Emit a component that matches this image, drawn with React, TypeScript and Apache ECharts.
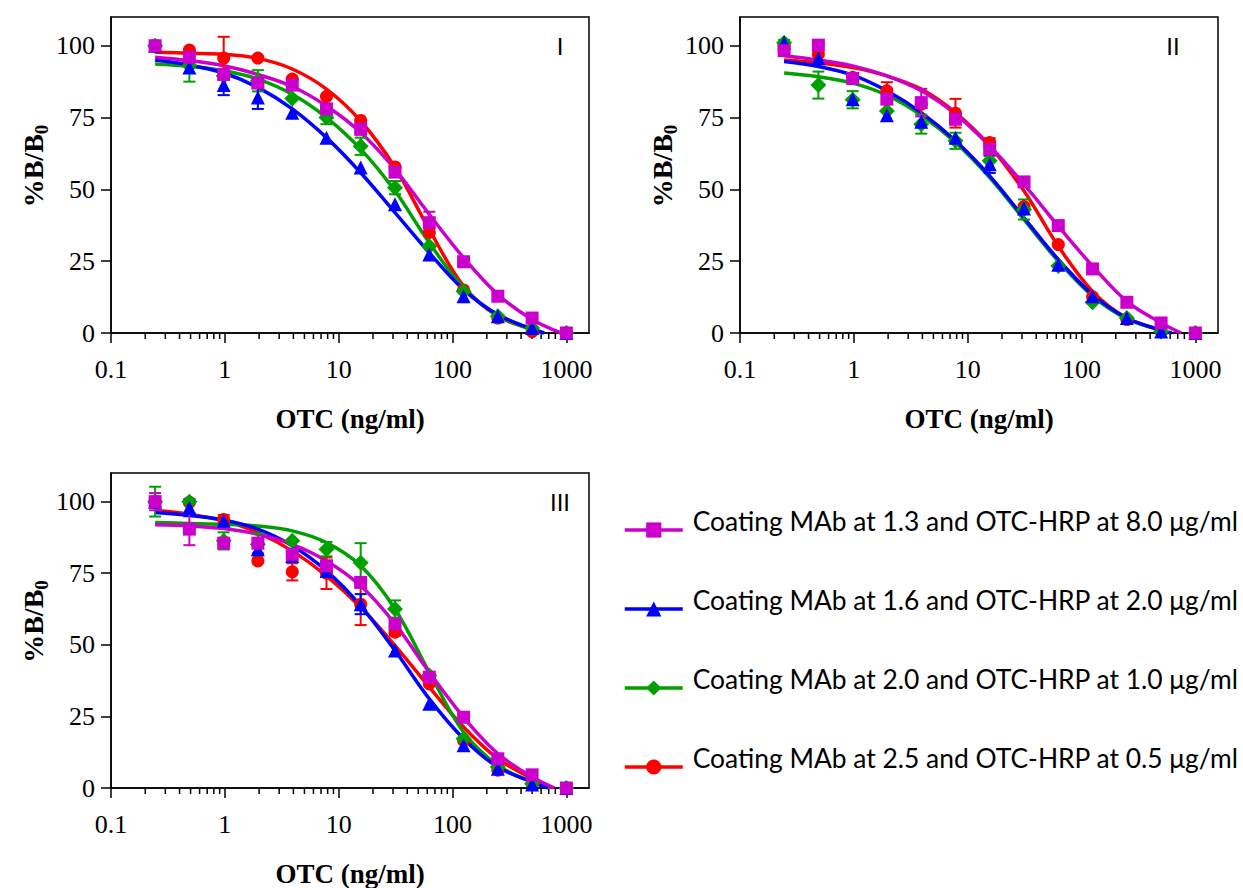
import React, { useEffect, useRef } from "react";
import * as echarts from "echarts";

// OTC concentrations (two-fold dilutions), ng/ml
const concentrations = [0.244, 0.488, 0.977, 1.95, 3.91, 7.81, 15.6, 31.25, 62.5, 125, 250, 500, 1000];
const xTickValues = [0.1, 1, 10, 100, 1000];
const yTickValues = [0, 25, 50, 75, 100];
const minorMultipliers = [2, 3, 4, 5, 6, 7, 8, 9];
const minorDecades = [0.1, 1, 10, 100];
const panelLabels = ["I", "II", "III"];

const nameM = "Coating MAb at 1.3 and OTC-HRP at 8.0 μg/ml";
const nameB = "Coating MAb at 1.6 and OTC-HRP at 2.0 μg/ml";
const nameG = "Coating MAb at 2.0 and OTC-HRP at 1.0 μg/ml";
const nameR = "Coating MAb at 2.5 and OTC-HRP at 0.5 μg/ml";

// ---- Panel I ----
const p1Magenta = [100, 96, 90, 87, 86.3, 78, 71, 56, 38.4, 24.8, 12.8, 5.2, 0];
const p1Blue = [100, 92.4, 86.3, 82, 76.7, 68, 57.6, 44.8, 27.3, 12.8, 5.8, 1.7, 0];
const p1Green = [100, 93, 89.5, 87.8, 81.6, 75, 65, 50.6, 30.2, 14.5, 5.8, 1.7, 0];
const p1Red = [100, 98.5, 95.7, 95.7, 88.4, 82.3, 74, 57.8, 35, 15, 5.2, 0.5, 0];
const p1MagentaErr = [0, 0, 0, 0, 0, 0, 2, 0, 3.8, 0, 0, 0, 0];
const p1BlueErr = [0, 0, 3.5, 4, 0, 0, 0, 0, 0, 0, 0, 0, 0];
const p1GreenErr = [0, 5.5, 0, 3.7, 0, 2.3, 3, 2.3, 0, 0, 0, 0, 0];
const p1RedErr = [0, 0, 7.4, 0, 0, 0, 0, 0, 0, 0, 0, 0, 0];
const p1MagentaFit = [96, 94.8, 93, 90, 85.8, 79, 69.8, 57, 41.3, 26.2, 13.4, 4.7, 0];
const p1BlueFit = [95, 93.3, 90.5, 85.5, 78, 68, 55.8, 41.9, 27.9, 15.1, 6.4, 1.4, 0];
const p1GreenFit = [93.6, 92.8, 91.3, 88.4, 83.1, 75, 64, 49.4, 31.4, 15.7, 6, 1.2, 0];
const p1RedFit = [97.7, 97.4, 97, 95.6, 91.9, 84.9, 73.8, 57.6, 36, 16.3, 5.8, 1.2, 0];
const p1FitEnds = [900, 640, 620, 580]; // M, B, G, R

// ---- Panel II ----
const p2Magenta = [98.3, 100.2, 88.6, 81.4, 80.2, 74.4, 64, 52.6, 37.4, 22.3, 10.7, 3.5, 0];
const p2Blue = [101, 95.6, 81.4, 75.8, 73.5, 68, 58.7, 43.3, 23.8, 12.8, 5.2, 0.5, 0];
const p2Green = [101, 86.3, 81.2, 77.3, 72.7, 66.9, 60, 43, 23.3, 10.7, 5.2, 0.5, 0];
const p2Red = [100, 97, 89, 84.3, 79.7, 76.5, 66.3, 44, 30.8, 12.6, 4.7, 0.5, 0];
const p2MagentaErr = [0, 0, 0, 0, 4.8, 0, 0, 0, 0, 0, 0, 0, 0];
const p2BlueErr = [0, 0, 0, 0, 0, 0, 3, 0, 0, 0, 0, 0, 0];
const p2GreenErr = [1, 4.7, 3, 0, 3.3, 2.8, 0, 3.5, 0, 0, 0, 0, 0];
const p2RedErr = [0, 0, 0, 3, 0, 5, 1.5, 0, 0, 0, 0, 0, 0];
const p2MagentaFit = [96.5, 95, 93, 89.5, 84.3, 76.2, 65.1, 51.7, 37.2, 23.3, 11, 3.5, 0];
const p2BlueFit = [94.5, 92.8, 89.8, 84.3, 76.7, 66.9, 54.7, 40.1, 25.6, 13.4, 5.2, 0.9, 0];
const p2GreenFit = [90.5, 89.2, 87, 82.8, 75.8, 66.3, 54.1, 39.5, 25, 12.8, 4.9, 0.9, 0];
const p2RedFit = [95, 94, 92.4, 89.5, 84.9, 76.7, 65.1, 49.4, 30.2, 14.5, 5.2, 0.9, 0];
const p2FitEnds = [750, 620, 580, 540];

// ---- Panel III ----
const p3Magenta = [100, 90.4, 85.5, 85.5, 81.6, 77.6, 71.8, 57.3, 38.7, 24.7, 10.2, 4.6, 0];
const p3Blue = [100, 97.9, 93.3, 83.4, 81, 75.8, 64.2, 48, 29.4, 14.9, 6.7, 1.2, 0];
const p3Green = [100, 100, 86.3, 85.1, 86.3, 83.4, 78.7, 62.5, 39.3, 17.2, 7.3, 1.5, 0];
const p3Red = [100, 99.7, 93.8, 79.3, 75.5, 75, 64.2, 54.4, 36.4, 16.6, 6.2, 1.5, 0];
const p3MagentaErr = [3, 5.6, 0, 0, 0, 0, 0, 0, 0, 0, 0, 0, 0];
const p3BlueErr = [0, 3, 0, 1.5, 0, 0, 3.5, 0, 0, 0, 0, 0, 0];
const p3GreenErr = [5.2, 0, 3, 3.8, 0, 2.5, 6.8, 3, 0, 0, 0, 0, 0];
const p3RedErr = [0, 0, 1.5, 0, 3, 5.5, 7.3, 1.2, 0, 0, 0, 0, 0];
const p3MagentaFit = [91.9, 91.5, 90.6, 88.6, 85.1, 79.3, 70.6, 57.3, 40.4, 24.7, 12, 3.8, 0];
const p3BlueFit = [96.2, 95.2, 93.6, 90.4, 84.6, 75.8, 63.6, 48, 31.1, 17.2, 7.3, 2.1, 0];
const p3GreenFit = [92.7, 92.4, 92.1, 91.5, 89.8, 85.7, 77.6, 62.5, 40.4, 19.5, 7.9, 2.1, 0];
const p3RedFit = [97, 95.6, 93.3, 89.2, 82.8, 74.1, 63.1, 49.7, 35.2, 21.3, 10.2, 3.3, 0];
const p3FitEnds = [785, 690, 720, 750];

const SERIF = "Liberation Serif";
const SANS_LEGEND = "Lato";

type Cond = { name: string; color: string; symbol: string; size: number };
const condM: Cond = { name: nameM, color: "#CC00CC", symbol: "rect", size: 13 };
const condB: Cond = { name: nameB, color: "#0000FF", symbol: "triangle", size: 14 };
const condG: Cond = { name: nameG, color: "#00A000", symbol: "diamond", size: 16 };
const condR: Cond = { name: nameR, color: "#FF0000", symbol: "circle", size: 13 };

const panels = [
  {
    grid: { left: 111, top: 17, width: 478, height: 316 },
    label: { x: 560, y: 46 },
    sets: [
      { cond: condM, pts: p1Magenta, err: p1MagentaErr, fit: p1MagentaFit, end: p1FitEnds[0] },
      { cond: condB, pts: p1Blue, err: p1BlueErr, fit: p1BlueFit, end: p1FitEnds[1] },
      { cond: condG, pts: p1Green, err: p1GreenErr, fit: p1GreenFit, end: p1FitEnds[2] },
      { cond: condR, pts: p1Red, err: p1RedErr, fit: p1RedFit, end: p1FitEnds[3] },
    ],
  },
  {
    grid: { left: 740, top: 17, width: 478, height: 316 },
    label: { x: 1173, y: 46 },
    sets: [
      { cond: condM, pts: p2Magenta, err: p2MagentaErr, fit: p2MagentaFit, end: p2FitEnds[0] },
      { cond: condB, pts: p2Blue, err: p2BlueErr, fit: p2BlueFit, end: p2FitEnds[1] },
      { cond: condG, pts: p2Green, err: p2GreenErr, fit: p2GreenFit, end: p2FitEnds[2] },
      { cond: condR, pts: p2Red, err: p2RedErr, fit: p2RedFit, end: p2FitEnds[3] },
    ],
  },
  {
    grid: { left: 111, top: 473, width: 478, height: 316 },
    label: { x: 560, y: 502 },
    sets: [
      { cond: condM, pts: p3Magenta, err: p3MagentaErr, fit: p3MagentaFit, end: p3FitEnds[0] },
      { cond: condB, pts: p3Blue, err: p3BlueErr, fit: p3BlueFit, end: p3FitEnds[1] },
      { cond: condG, pts: p3Green, err: p3GreenErr, fit: p3GreenFit, end: p3FitEnds[2] },
      { cond: condR, pts: p3Red, err: p3RedErr, fit: p3RedFit, end: p3FitEnds[3] },
    ],
  },
];

const tickRich = {
  v: { fontFamily: SERIF, fontSize: 26, color: "#000", fontWeight: "normal" },
};

function buildOption() {
  const minorTicks: number[] = [];
  minorDecades.forEach((d) => minorMultipliers.forEach((m) => minorTicks.push(d * m)));

  const grids: any[] = [];
  const xAxes: any[] = [];
  const yAxes: any[] = [];
  const lineSeries: any[] = [];
  const otherSeries: any[] = [];
  const graphics: any[] = [];

  panels.forEach((p, i) => {
    grids.push({
      ...p.grid,
      show: true,
      borderColor: "#000",
      borderWidth: 1.5,
      backgroundColor: "transparent",
      containLabel: false,
    });
    xAxes.push({
      type: "log",
      logBase: 10,
      gridIndex: i,
      min: 0.1,
      max: 1580,
      axisLine: { show: true, onZero: false, lineStyle: { color: "#000", width: 1.5 } },
      axisTick: { show: true, inside: false, length: 10, customValues: xTickValues, lineStyle: { color: "#000", width: 1.5 } },
      axisLabel: {
        customValues: xTickValues,
        formatter: (v: number) => `{v|${v < 1 ? v.toFixed(1) : String(Math.round(v))}}`,
        fontFamily: SERIF,
        fontSize: 26,
        color: "#000",
        margin: 23,
        rich: tickRich,
      },
      splitLine: { show: false },
      minorSplitLine: { show: false },
      name: "OTC (ng/ml)",
      nameLocation: "middle",
      nameGap: 72,
      nameTextStyle: { fontFamily: SERIF, fontWeight: "bold", fontSize: 27, color: "#000" },
    });
    yAxes.push({
      type: "value",
      gridIndex: i,
      min: 0,
      max: 110,
      axisLine: { show: true, onZero: false, lineStyle: { color: "#000", width: 1.5 } },
      axisTick: { show: true, inside: false, length: 10, customValues: yTickValues, lineStyle: { color: "#000", width: 1.5 } },
      axisLabel: {
        customValues: yTickValues,
        formatter: (v: number) => `{v|${Math.round(v)}}`,
        fontFamily: SERIF,
        fontSize: 26,
        color: "#000",
        margin: 16,
        rich: tickRich,
      },
      splitLine: { show: false },
      name: "{a|%B/B}{s|0}",
      nameLocation: "middle",
      nameGap: 64,
      nameRotate: 90,
      nameTextStyle: {
        color: "#000",
        fontFamily: SERIF,
        fontWeight: "bold",
        fontSize: 28,
        rich: {
          a: { fontFamily: SERIF, fontWeight: "bold", fontSize: 28, lineHeight: 28, color: "#000", padding: [0, 0, 0, 18] },
          s: { fontFamily: SERIF, fontWeight: "bold", fontSize: 19, lineHeight: 20, padding: [17, 0, 0, 0], color: "#000" },
        },
      },
    });

    // minor ticks of the log axis
    otherSeries.push({
      type: "custom",
      xAxisIndex: i,
      yAxisIndex: i,
      silent: true,
      clip: false,
      z: 1,
      data: minorTicks.map((v) => [v, 0]),
      renderItem: (params: any, api: any) => {
        const c = api.coord([api.value(0), 0]);
        return {
          type: "line",
          shape: { x1: c[0], y1: c[1], x2: c[0], y2: c[1] + 6 },
          style: { stroke: "#000", lineWidth: 1.5 },
        };
      },
    });

    // draw order: red, green, blue, magenta (magenta on top)
    const order = [3, 2, 1, 0];
    order.forEach((k) => {
      const s = p.sets[k];
      const fitX = concentrations.slice(0, 12).concat([s.end]);
      lineSeries.push({
        type: "line",
        name: s.cond.name,
        xAxisIndex: i,
        yAxisIndex: i,
        data: fitX.map((x, j) => [x, s.fit[j]]),
        smooth: 0.35,
        showSymbol: false,
        symbol: s.cond.symbol,
        symbolSize: s.cond.size,
        clip: false,
        lineStyle: { color: s.cond.color, width: 3.5 },
        itemStyle: { color: s.cond.color },
        z: 2,
        silent: true,
      });
      const errData = concentrations
        .map((x, j) => [x, s.pts[j], s.err[j]])
        .filter((d) => d[2] > 0);
      otherSeries.push({
        type: "custom",
        name: s.cond.name,
        xAxisIndex: i,
        yAxisIndex: i,
        silent: true,
        clip: false,
        z: 3,
        data: errData,
        encode: { x: 0, y: 1 },
        renderItem: (params: any, api: any) => {
          const x = api.value(0);
          const y = api.value(1);
          const e = api.value(2);
          const top = api.coord([x, y + e]);
          const bot = api.coord([x, Math.max(0, y - e)]);
          const w = 6;
          const st = { stroke: s.cond.color, lineWidth: 2 };
          return {
            type: "group",
            children: [
              { type: "line", shape: { x1: top[0], y1: top[1], x2: bot[0], y2: bot[1] }, style: st },
              { type: "line", shape: { x1: top[0] - w, y1: top[1], x2: top[0] + w, y2: top[1] }, style: st },
              { type: "line", shape: { x1: bot[0] - w, y1: bot[1], x2: bot[0] + w, y2: bot[1] }, style: st },
            ],
          };
        },
      });
      otherSeries.push({
        type: "scatter",
        name: s.cond.name,
        xAxisIndex: i,
        yAxisIndex: i,
        symbol: s.cond.symbol,
        symbolSize: s.cond.size,
        clip: false,
        itemStyle: { color: s.cond.color, opacity: 1 },
        data: concentrations.map((x, j) => [x, s.pts[j]]),
        z: 4,
        silent: true,
      });
    });

    graphics.push({
      type: "text",
      x: p.label.x,
      y: p.label.y,
      style: {
        text: panelLabels[i],
        fontFamily: "Liberation Sans",
        fontSize: 24,
        fill: "#000",
        textAlign: "center",
        textVerticalAlign: "middle",
      },
    });
  });

  return {
    animation: false,
    backgroundColor: "#fff",
    textStyle: { fontFamily: SERIF },
    grid: grids,
    xAxis: xAxes,
    yAxis: yAxes,
    legend: {
      orient: "vertical",
      left: 623,
      top: 508,
      padding: 0,
      itemWidth: 58,
      itemHeight: 19,
      itemGap: 35,
      selectedMode: false,
      data: [nameM, nameB, nameG, nameR],
      lineStyle: { width: 3.5 },
      formatter: (name: string) => `{t|${name}}`,
      textStyle: {
        fontFamily: SANS_LEGEND,
        fontSize: 26.4,
        color: "#000",
        rich: {
          t: { fontFamily: SANS_LEGEND, fontSize: 26.4, lineHeight: 30, color: "#000", padding: [0, 0, 18, 5] },
        },
      },
    },
    graphic: graphics,
    series: [...lineSeries, ...otherSeries],
  };
}

export default function App() {
  const ref = useRef<HTMLDivElement>(null);
  useEffect(() => {
    document.body.style.margin = "0";
    if (!ref.current) return;
    const chart = echarts.init(ref.current, undefined, { renderer: "svg" });
    chart.setOption(buildOption() as any);
    return () => chart.dispose();
  }, []);
  return <div ref={ref} style={{ width: 1243, height: 888 }} />;
}
